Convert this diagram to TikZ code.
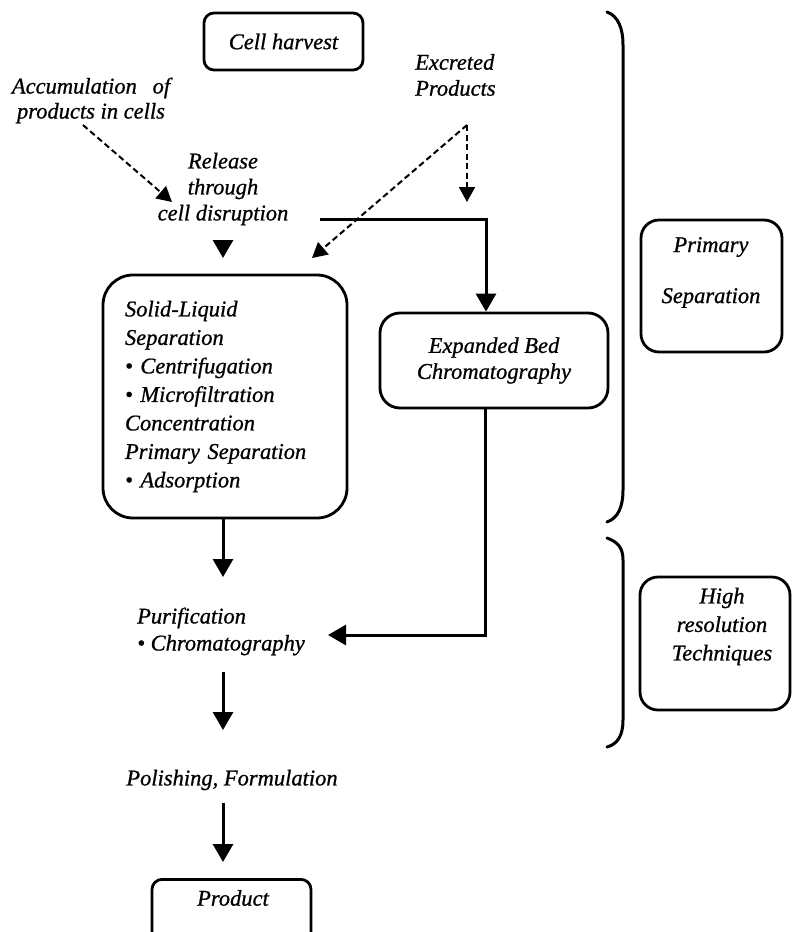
\documentclass[tikz,border=0pt]{standalone}
\usepackage{fontspec}
\setmainfont{Liberation Serif}[ItalicFeatures={FakeBold=0.8}]
\usetikzlibrary{arrows.meta,calc}
\begin{document}
\begin{tikzpicture}[x=1pt,y=-1pt,
  every node/.style={font=\itshape\fontsize{22.5}{26}\selectfont, inner sep=0pt},
  box/.style={draw, line width=2.8pt, rounded corners=#1},
  box/.default=12pt,
  flow/.style={line width=3pt, -{Triangle[width=20pt,length=18pt]}},
  dflow/.style={line width=2pt, dash pattern=on 6pt off 3.5pt, -{Triangle[width=16pt,length=15pt]}},
  brace/.style={line width=3pt, line cap=round}
]
\fill[white] (0,0) rectangle (792,932);
\useasboundingbox (0,0) rectangle (792,932);
\clip (0,0) rectangle (792,932);

% nodes
\node[box=10pt, minimum width=159pt, minimum height=57pt] (harvest) at (283.5,41.5) {Cell harvest};
\node[align=center, font=\itshape\fontsize{22.5}{25}\selectfont] (accum) at (91,100.5) {Accumulation\hspace{0.7em}of\\products in cells};
\node[align=center] (release) at (223,189) {Release\\through\\cell disruption};
\node[align=left, anchor=west] (excr) at (415,75) {Excreted\\Products};

\node[box=30pt, minimum width=244pt, minimum height=243pt, text width=200pt, align=left,
      font=\itshape\fontsize{22.5}{28.5}\selectfont] (sl) at (225,396.5)
  {Solid-Liquid\\Separation\\\textbullet\ Centrifugation\\\textbullet\ Microfiltration\\Concentration\\Primary Separation\\\textbullet\ Adsorption};

\node[box=20pt, minimum width=228pt, minimum height=95pt, align=center] (ebc) at (494,360.5) {Expanded Bed\\Chromatography};

\node[align=left, anchor=west, font=\itshape\fontsize{22.5}{27}\selectfont] (purif) at (137,631.5) {Purification\\\textbullet\ Chromatography};
\node (polish) at (232,780) {Polishing, Formulation};

\node[box=10pt, minimum width=159pt, minimum height=100pt, anchor=north] (prodbox) at (231.5,878) {};
\node (product) at (233,898) {Product};

\node[box=18pt, minimum width=141pt, minimum height=132pt] (primbox) at (711.5,286) {};
\node[align=center, font=\itshape\fontsize{22.5}{51}\selectfont] (primtext) at (711,272.5) {Primary\\Separation};

\node[box=18pt, minimum width=150pt, minimum height=133pt] (hiresbox) at (715,643.5) {};
\node[align=center, font=\itshape\fontsize{22.5}{28.5}\selectfont] (hirestext) at (722,626.5) {High\\resolution\\Techniques};

% braces
\draw[brace] (607,12) .. controls (618,16) and (623,28) .. (623,45) -- (623,490) .. controls (623,507) and (618,518) .. (607,522);
\draw[brace] (607,538) .. controls (618,542) and (623,548) .. (623,560) -- (623,720) .. controls (623,735) and (618,744) .. (607,747);

% connectors
\coordinate (accfrom) at (83,125);
\coordinate (accto) at (172,202);
\draw[dflow] (accfrom) -- (accto);

\coordinate (relfrom) at (223,240);
\coordinate (relto) at (223,258);
\draw[flow] (relfrom) -- (relto);

\coordinate (fork) at (467,125);
\coordinate (forkleft) at (312,258);
\coordinate (forkdown) at (467,202);
\draw[dflow] (fork) -- (forkleft);
\draw[dflow] (fork) -- (forkdown);

\coordinate (bypass) at (320,219);
\draw[flow] (bypass) -| ($(ebc.north)+(-8,0)$);

\draw[flow] (sl.south -| 223,0) -- (223,577);

\coordinate (purifin) at (328,635);
\draw[flow] ($(ebc.south)+(-9,0)$) |- (purifin);

\coordinate (p1) at (223,672);
\coordinate (p2) at (223,730);
\draw[flow] (p1) -- (p2);

\coordinate (q1) at (223,803);
\coordinate (q2) at (223,862);
\draw[flow] (q1) -- (q2);
\end{tikzpicture}
\end{document}
